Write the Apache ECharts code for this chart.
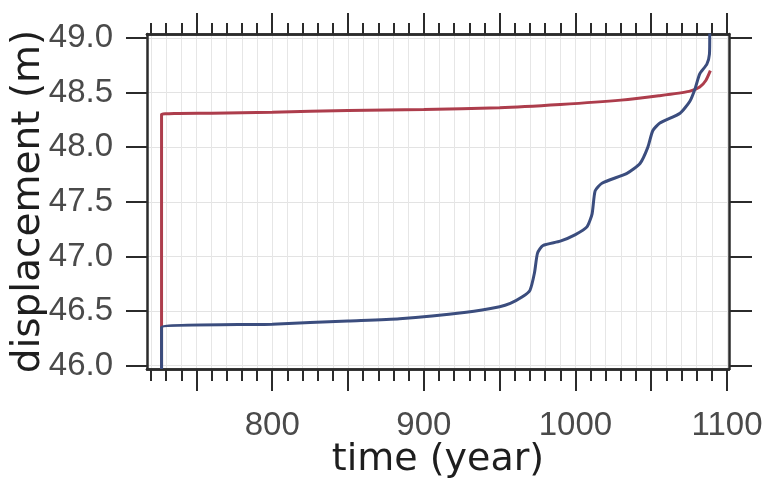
<!DOCTYPE html>
<html>
<head>
<meta charset="utf-8">
<script src="https://cdn.jsdelivr.net/npm/echarts@6/dist/echarts.min.js"></script>
<style>
html,body{margin:0;padding:0;background:#fff;}
#chart{width:767px;height:484px;}
</style>
</head>
<body>
<div id="chart"></div>
<script>
// ---- data ----
const redYears = [727, 727, 760, 800, 850, 900, 950, 990, 1030, 1055, 1075, 1082, 1086, 1089];
const redDisp  = [45.97, 48.30, 48.31, 48.32, 48.335, 48.345, 48.36, 48.39, 48.43, 48.47, 48.51, 48.55, 48.61, 48.70];

const blueYears = [727, 727, 800, 850, 884, 928, 950, 957, 965, 970, 973, 975, 978.6, 990, 1000, 1007.6, 1011, 1013, 1017.5, 1034, 1042.6, 1047.8, 1051, 1055.7, 1069, 1075.5, 1078.8, 1082, 1086.7, 1088.4, 1088.6];
const blueDisp  = [45.97, 46.35, 46.38, 46.41, 46.43, 46.49, 46.54, 46.57, 46.63, 46.69, 46.85, 47.03, 47.10, 47.14, 47.20, 47.27, 47.39, 47.60, 47.67, 47.76, 47.85, 48.00, 48.15, 48.22, 48.31, 48.42, 48.53, 48.67, 48.76, 48.85, 49.04];

const xLabelValues = [800, 900, 1000, 1100];
const xMajorTicks = [750, 800, 850, 900, 950, 1000, 1050, 1100];
const xMinorTicks = [720, 730, 740, 750, 760, 770, 780, 790, 800, 810, 820, 830, 840, 850, 860, 870, 880, 890, 900, 910, 920, 930, 940, 950, 960, 970, 980, 990, 1000, 1010, 1020, 1030, 1040, 1050, 1060, 1070, 1080, 1090, 1100];
const yTickValues = [46.0, 46.5, 47.0, 47.5, 48.0, 48.5, 49.0];

const X_MIN = 717.4, X_MAX = 1101.3;
const Y_MIN = 45.97, Y_MAX = 49.035;

const axisColor = '#2b2b2b';
const font = '"Liberation Sans", Arial, sans-serif';
const titleFont = '"DejaVu Sans", Verdana, sans-serif';

function zip(a, b) { return a.map((v, i) => [v, b[i]]); }

function xAx(pos, ticks, len, opts) {
  return Object.assign({
    type: 'value', position: pos, min: X_MIN, max: X_MAX,
    axisLine: { show: true, onZero: false, lineStyle: { color: axisColor, width: 2.5 } },
    axisTick: { show: true, inside: false, length: len, customValues: ticks, lineStyle: { color: axisColor, width: 2 } },
    axisLabel: { show: false },
    splitLine: { show: false }
  }, opts || {});
}

const chart = echarts.init(document.getElementById('chart'), null, { renderer: 'canvas' });
chart.setOption({
  backgroundColor: '#ffffff',
  animation: false,
  grid: { left: 147, right: 38, top: 34, bottom: 115, containLabel: false, outerBoundsMode: 'none' },
  xAxis: [
    xAx('bottom', xMinorTicks, 12, {
      name: 'time (year)', nameLocation: 'middle', nameGap: 72, nameMoveOverlap: false,
      nameTextStyle: { fontSize: 38, color: '#1e1e1e', fontFamily: titleFont },
      axisLabel: { show: true, customValues: xLabelValues, fontSize: 33, color: '#4a4a4a', margin: 40, fontFamily: font,
        formatter: v => String(Math.round(v)) },
      splitLine: { show: true, lineStyle: { color: '#e6e6e6', width: 1 } }
    }),
    xAx('bottom', xMajorTicks, 22),
    xAx('top', xMinorTicks, 11),
    xAx('top', xMajorTicks, 21)
  ],
  yAxis: [
    {
      type: 'value', position: 'left', min: Y_MIN, max: Y_MAX,
      name: 'displacement (m)', nameLocation: 'middle', nameGap: 99, nameRotate: 90, nameMoveOverlap: false,
      nameTextStyle: { fontSize: 39, color: '#1e1e1e', fontFamily: titleFont },
      axisLine: { show: true, onZero: false, lineStyle: { color: axisColor, width: 2.5 } },
      axisTick: { show: true, inside: false, length: 21, customValues: yTickValues, lineStyle: { color: axisColor, width: 2 } },
      axisLabel: { show: true, customValues: yTickValues, fontSize: 33, color: '#4a4a4a', margin: 34, fontFamily: font,
        formatter: v => Number(v).toFixed(1) },
      splitLine: { show: true, lineStyle: { color: '#e3e3e3', width: 1.2 } }
    },
    {
      type: 'value', position: 'right', min: Y_MIN, max: Y_MAX,
      axisLine: { show: true, onZero: false, lineStyle: { color: axisColor, width: 2.5 } },
      axisTick: { show: true, inside: false, length: 23, customValues: yTickValues, lineStyle: { color: axisColor, width: 2 } },
      axisLabel: { show: false },
      splitLine: { show: false }
    }
  ],
  series: [
    {
      type: 'line', xAxisIndex: 0, yAxisIndex: 0, data: zip(redYears, redDisp),
      showSymbol: false, smooth: 0.2, clip: true,
      lineStyle: { color: '#ad3d4c', width: 3 }
    },
    {
      type: 'line', xAxisIndex: 0, yAxisIndex: 0, data: zip(blueYears, blueDisp),
      showSymbol: false, smooth: 0.2, clip: true,
      lineStyle: { color: '#3b4d7e', width: 3 }
    }
  ]
});
</script>
</body>
</html>
